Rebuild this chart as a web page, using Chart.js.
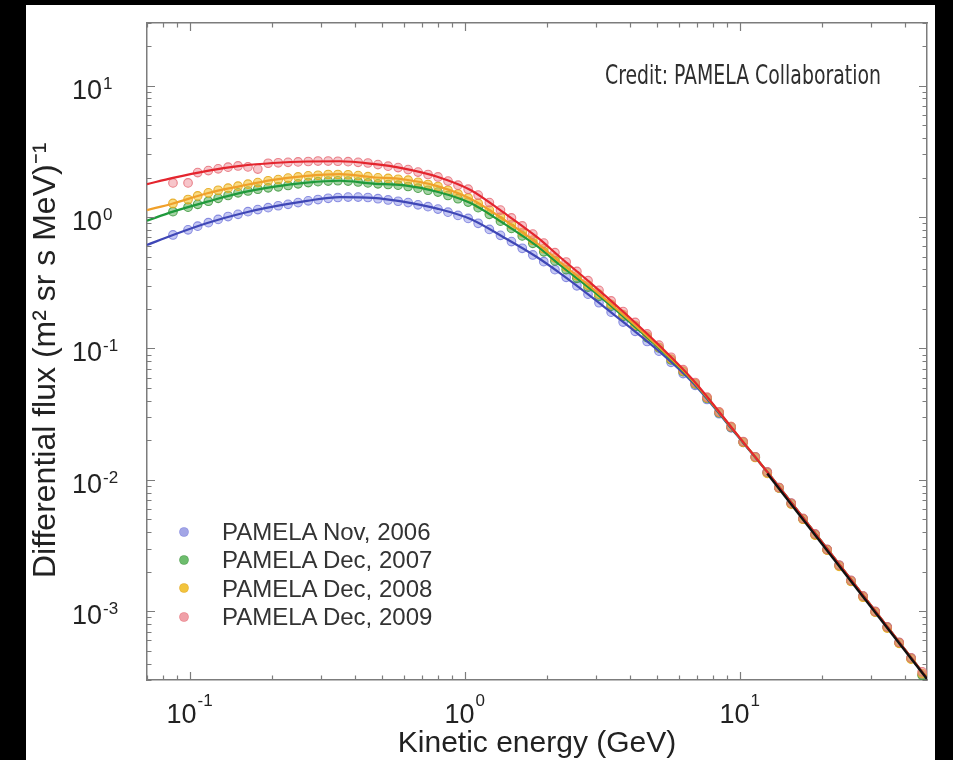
<!DOCTYPE html>
<html>
<head>
<meta charset="utf-8">
<script src="https://cdn.jsdelivr.net/npm/chart.js@4.4.1/dist/chart.umd.min.js"></script>
<style>
  html, body { margin:0; padding:0; background:#000; width:953px; height:760px; overflow:hidden; }
  #panel { position:absolute; left:26px; top:5px; width:909px; height:755px; background:#fff; }
  #chart { position:absolute; left:0; top:0; }
  #credit { position:absolute; left:579px; top:56px; font-family:"Liberation Sans Narrow","DejaVu Sans Condensed","Liberation Sans",sans-serif;
            font-size:27px; line-height:27px; color:#2e2e2e; white-space:nowrap; transform-origin:0 0; }
  #legend { position:absolute; left:0; top:0; font-family:"Liberation Sans",Arial,sans-serif; font-size:24px; line-height:24px; color:#333; }
  .row { position:absolute; left:150px; white-space:nowrap; height:24px; }
  .dot { position:absolute; left:4px; top:7.7px; width:8px; height:8px; border-radius:50%; }
  .lab { position:absolute; left:46px; top:0; }
</style>
</head>
<body>
<div id="panel">
  <canvas id="chart" width="909" height="755"></canvas>
  <div id="credit">Credit: PAMELA Collaboration</div>
  <div id="legend"></div>
</div>
<script>
// ---------------- data ----------------
const energyGeV = [0.087,0.0987,0.107,0.117,0.127,0.138,0.150,0.163,0.177,0.193,0.210,0.228,0.248,0.270,0.293,0.319,0.346,0.377,0.410,0.445,0.484,0.527,0.573,0.623,0.677,0.736,0.800,0.870,0.946,1.03,1.12,1.23,1.35,1.48,1.62,1.77,1.94,2.13,2.34,2.56,2.81,3.08,3.41,3.77,4.17,4.61,5.09,5.63,6.23,6.89,7.61,8.42,9.31,10.3,11.4,12.6,13.9,15.4,17.0,18.8,20.8,23.0,25.4,28.1,31.1,34.4,38.0,42.0,46.1];

const fluxNov2006 = [0.731,0.800,0.853,0.907,0.960,1.01,1.05,1.10,1.14,1.18,1.22,1.25,1.29,1.33,1.36,1.39,1.41,1.42,1.42,1.41,1.38,1.35,1.32,1.29,1.24,1.20,1.15,1.09,1.03,0.977,0.897,0.806,0.726,0.651,0.579,0.515,0.458,0.398,0.348,0.300,0.259,0.223,0.189,0.159,0.135,0.113,0.0954,0.0785,0.0644,0.0524,0.0409,0.0319,0.0249,0.0193,0.0149,0.0114,0.00872,0.00662,0.00506,0.00386,0.00295,0.00224,0.00171,0.00130,0.000995,0.000758,0.000578,0.000440,0.000330];

const fluxDec2007 = [1.10,1.19,1.25,1.32,1.39,1.46,1.53,1.58,1.63,1.67,1.70,1.74,1.79,1.83,1.86,1.88,1.89,1.88,1.85,1.82,1.79,1.77,1.75,1.71,1.66,1.60,1.55,1.46,1.38,1.30,1.18,1.05,0.931,0.820,0.719,0.632,0.544,0.464,0.398,0.342,0.293,0.250,0.210,0.176,0.147,0.121,0.101,0.0820,0.0666,0.0538,0.0417,0.0324,0.0251,0.0194,0.0149,0.0114,0.00870,0.00660,0.00505,0.00384,0.00294,0.00223,0.00170,0.00130,0.000990,0.000755,0.000575,0.000438,0.000325];

const fluxDec2008 = [1.27,1.36,1.45,1.53,1.60,1.66,1.72,1.78,1.83,1.89,1.93,1.98,2.02,2.06,2.08,2.11,2.11,2.10,2.07,2.03,1.99,1.97,1.94,1.91,1.84,1.77,1.71,1.60,1.50,1.40,1.27,1.13,0.998,0.875,0.763,0.667,0.574,0.489,0.418,0.357,0.304,0.259,0.217,0.181,0.150,0.124,0.102,0.0832,0.0674,0.0541,0.0421,0.0327,0.0254,0.0193,0.0148,0.0112,0.00868,0.00655,0.00502,0.00380,0.00292,0.00220,0.00169,0.00128,0.000985,0.000745,0.000570,0.000432,0.000335];

const fluxDec2009 = [1.82,1.82,2.18,2.26,2.33,2.40,2.45,2.41,2.32,2.57,2.59,2.61,2.63,2.65,2.67,2.67,2.66,2.64,2.61,2.58,2.51,2.44,2.38,2.30,2.20,2.11,2.02,1.88,1.75,1.63,1.47,1.29,1.13,0.986,0.856,0.742,0.634,0.536,0.455,0.386,0.328,0.277,0.230,0.191,0.158,0.129,0.106,0.0857,0.0690,0.0551,0.0426,0.0329,0.0254,0.0196,0.0150,0.0115,0.00875,0.00667,0.00509,0.00388,0.00296,0.00225,0.00172,0.00131,0.00100,0.000762,0.000581,0.000443,0.000346];

// fitted curves (solid lines)
const fitEnergy  = [0.07,0.087,0.116,0.153,0.201,0.267,0.352,0.464,0.597,0.795,1.05,1.38,1.83,2.22,2.93,3.89,5.13,6.77,9.75,12.6,25.3,48];
const fitNov2006 = [0.613,0.731,0.902,1.06,1.20,1.33,1.42,1.40,1.31,1.16,0.967,0.706,0.497,0.375,0.242,0.151,0.0940,0.0546,0.0220,0.0115,0.00176,0.000309];
const fitDec2007 = [0.939,1.10,1.31,1.53,1.70,1.83,1.89,1.80,1.75,1.56,1.28,0.902,0.603,0.432,0.274,0.166,0.0991,0.0561,0.0222,0.0115,0.00176,0.000309];
const fitDec2008 = [1.13,1.27,1.52,1.72,1.92,2.06,2.12,2.01,1.94,1.72,1.38,0.967,0.635,0.455,0.284,0.171,0.1009,0.0566,0.0224,0.0115,0.00176,0.000309];
const fitDec2009 = [1.78,1.99,2.25,2.45,2.58,2.65,2.66,2.54,2.35,2.03,1.61,1.09,0.706,0.497,0.304,0.180,0.1045,0.0576,0.0224,0.0115,0.00176,0.000309];
// high-energy power-law fit (black)
const powerLawEnergy = [12.6, 48];
const powerLawFlux   = [0.0112, 0.000305];

const seriesNames = ['PAMELA Nov, 2006','PAMELA Dec, 2007','PAMELA Dec, 2008','PAMELA Dec, 2009'];

// axis ranges and tick labels
const xRange = [0.07, 48];
const yRange = [3e-4, 30];
const xTickValues = [0.1, 1, 10];
const xTickExponents = ['-1', '0', '1'];
const yTickValues = [1e-3, 1e-2, 1e-1, 1, 10];
const yTickExponents = ['-3', '-2', '-1', '0', '1'];
const xTitle = 'Kinetic energy (GeV)';
const yTitle = 'Differential flux (m\u00B2 sr s MeV)\u207B\u00B9  ';

// ---------------- styling ----------------
const lineColors  = ['#3f47b6', '#1f9a3c', '#f0a02a', '#e4252e'];
const pointFill   = ['rgba(150,155,235,0.55)', 'rgba(90,175,90,0.55)', 'rgba(245,195,50,0.6)', 'rgba(240,140,150,0.5)'];
const pointStroke = ['rgba(120,125,220,0.85)', 'rgba(60,150,60,0.85)', 'rgba(230,170,30,0.9)', 'rgba(230,110,120,0.85)'];
const legendDot   = ['#a3a6e6', '#6dbd6d', '#f2c43c', '#f0a0a8'];

const pointSeries = [fluxNov2006, fluxDec2007, fluxDec2008, fluxDec2009];
const fitSeries = [fitNov2006, fitDec2007, fitDec2008, fitDec2009];

const toXY = (xs, ys) => xs.map((x, i) => ({x: x, y: ys[i]}));

const datasets = [];
datasets.push({label: 'power law', data: toXY(powerLawEnergy, powerLawFlux), showLine: true,
  borderColor: '#111', borderWidth: 2.4, pointRadius: 0, fill: false, order: 0});
for (let s = 3; s >= 0; s--) {
  datasets.push({label: seriesNames[s] + ' fit', data: toXY(fitEnergy, fitSeries[s]), showLine: true,
    borderColor: lineColors[s], borderWidth: 2.2, pointRadius: 0, fill: false,
    cubicInterpolationMode: 'monotone', order: 4 - s});
}
for (let s = 3; s >= 0; s--) {
  datasets.push({label: seriesNames[s], data: toXY(energyGeV, pointSeries[s]), showLine: false,
    pointRadius: 4.3, pointBorderWidth: 1.1, backgroundColor: pointFill[s], borderColor: pointStroke[s],
    order: 9 - s});
}

// ---------------- plugins ----------------
const FRAME = '#7c7c7c';
function logTicks(min, max) {
  const out = [];
  for (let d = Math.floor(Math.log10(min)); d <= Math.ceil(Math.log10(max)); d++) {
    for (let m = 1; m <= 9; m++) {
      const v = m * Math.pow(10, d);
      if (v >= min * 0.9999 && v <= max * 1.0001) out.push({v: v, major: m === 1});
    }
  }
  return out;
}
const frameTicks = {
  id: 'frameTicks',
  afterDraw(chart) {
    const {ctx, chartArea: a} = chart;
    const xs = chart.scales.x, ys = chart.scales.y;
    ctx.save();
    ctx.strokeStyle = FRAME;
    ctx.lineWidth = 1.2;
    ctx.beginPath();
    logTicks(xs.min, xs.max).forEach(t => {
      const px = Math.round(xs.getPixelForValue(t.v)) + 0.5;
      const L = t.major ? 8 : 4.5;
      ctx.moveTo(px, a.bottom); ctx.lineTo(px, a.bottom - L);
      ctx.moveTo(px, a.top); ctx.lineTo(px, a.top + L);
    });
    logTicks(ys.min, ys.max).forEach(t => {
      const py = Math.round(ys.getPixelForValue(t.v)) + 0.5;
      const L = t.major ? 8 : 4.5;
      ctx.moveTo(a.left, py); ctx.lineTo(a.left + L, py);
      ctx.moveTo(a.right, py); ctx.lineTo(a.right - L, py);
    });
    ctx.stroke();

    // tick labels: 10 with superscript exponent
    const baseFont = '27px "Liberation Sans", Arial, sans-serif';
    const supFont = '17px "Liberation Sans", Arial, sans-serif';
    ctx.fillStyle = '#222';
    ctx.textAlign = 'left';
    ctx.textBaseline = 'alphabetic';
    yTickValues.forEach((v, i) => {
      const py = ys.getPixelForValue(v);
      ctx.font = baseFont;
      const wb = ctx.measureText('10').width;
      const left = 46;
      ctx.fillText('10', left, py + 13);
      ctx.font = supFont;
      ctx.fillText(yTickExponents[i], left + wb + 1, py + 3);
    });
    xTickValues.forEach((v, i) => {
      const px = xs.getPixelForValue(v);
      ctx.font = baseFont;
      const wb = ctx.measureText('10').width;
      ctx.font = supFont;
      const we = ctx.measureText(xTickExponents[i]).width;
      const left = px - (wb + 1 + we) / 2;
      ctx.font = baseFont;
      ctx.fillText('10', left, 718);
      ctx.font = supFont;
      ctx.fillText(xTickExponents[i], left + wb + 1, 701);
    });
    ctx.restore();
  }
};

const fixSize = (w, h) => (scale) => { if (w !== null) scale.width = w; if (h !== null) scale.height = h; };
const axisBorder = {display: true, color: FRAME, width: 1.5};

new Chart(document.getElementById('chart'), {
  type: 'scatter',
  data: {datasets: datasets},
  options: {
    responsive: false,
    animation: false,
    devicePixelRatio: 1,
    layout: {padding: 0},
    plugins: {legend: {display: false}, tooltip: {enabled: false}},
    scales: {
      x: {type: 'logarithmic', position: 'bottom', min: xRange[0], max: xRange[1],
          ticks: {display: false}, grid: {display: false}, border: axisBorder,
          title: {display: true, text: xTitle, color: '#222',
                  font: {family: '"Liberation Sans", Arial, sans-serif', size: 30, lineHeight: 1}, padding: {top: 0, bottom: 1}},
          afterFit: fixSize(null, 80)},
      x2: {type: 'logarithmic', position: 'top', min: xRange[0], max: xRange[1],
          ticks: {display: false}, grid: {display: false}, border: axisBorder,
          afterFit: fixSize(null, 18)},
      y: {type: 'logarithmic', position: 'left', min: yRange[0], max: yRange[1],
          ticks: {display: false}, grid: {display: false}, border: axisBorder,
          title: {display: true, text: yTitle, color: '#222',
                  font: {family: '"Liberation Sans", Arial, sans-serif', size: 32, lineHeight: 1}, padding: {top: 4, bottom: 0}},
          afterFit: fixSize(121, null)},
      y2: {type: 'logarithmic', position: 'right', min: yRange[0], max: yRange[1],
          ticks: {display: false}, grid: {display: false}, border: axisBorder,
          afterFit: fixSize(8, null)}
    }
  },
  plugins: [frameTicks]
});

// ---------------- legend (HTML text) ----------------
const legend = document.getElementById('legend');
const rowTops = [515, 543.3, 571.6, 599.9];
[0, 1, 2, 3].forEach(s => {
  const row = document.createElement('div');
  row.className = 'row';
  row.style.top = rowTops[s] + 'px';
  const dot = document.createElement('span');
  dot.className = 'dot';
  dot.style.background = legendDot[s];
  dot.style.boxShadow = '0 0 0 0.8px ' + pointStroke[s];
  const lab = document.createElement('span');
  lab.className = 'lab';
  lab.textContent = seriesNames[s];
  row.appendChild(dot); row.appendChild(lab);
  legend.appendChild(row);
});

// credit line squeezed to the condensed width of the original
const credit = document.getElementById('credit');
const cw = credit.getBoundingClientRect().width;
credit.style.transform = 'scaleX(' + (276 / cw).toFixed(3) + ')';
</script>
</body>
</html>
